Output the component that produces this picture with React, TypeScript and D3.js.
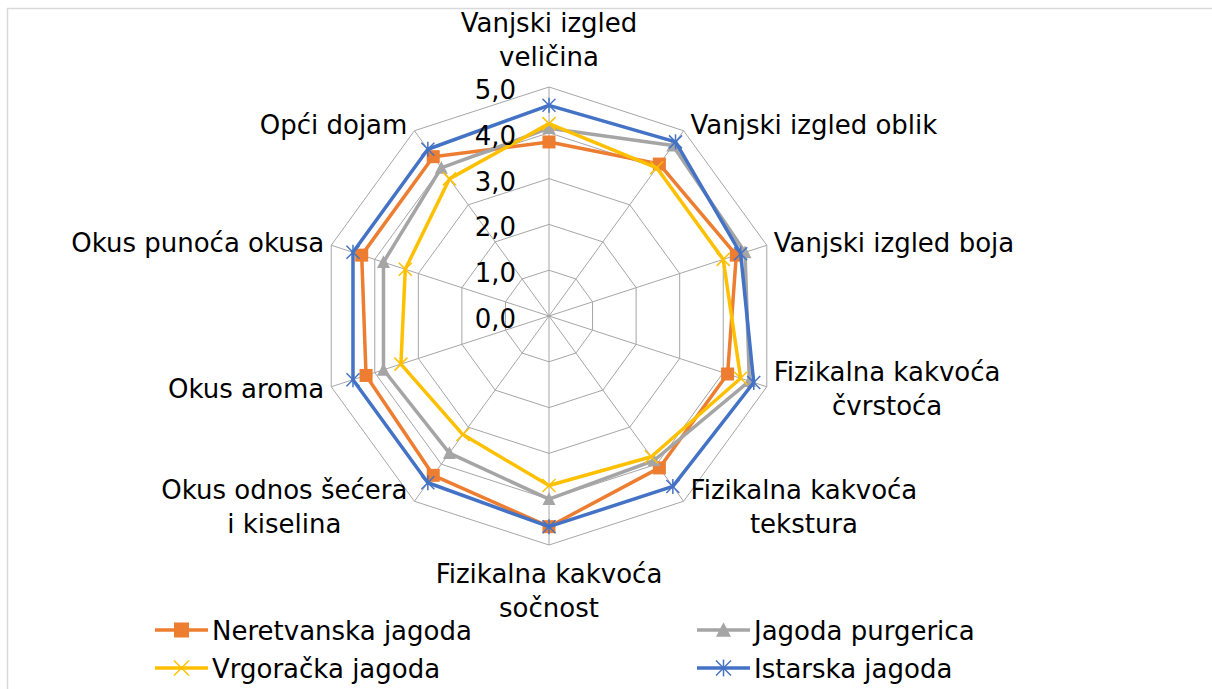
import * as d3 from "d3";

const axes = [
  ["Vanjski izgled", "veličina"],
  ["Vanjski izgled oblik"],
  ["Vanjski izgled boja"],
  ["Fizikalna kakvoća", "čvrstoća"],
  ["Fizikalna kakvoća", "tekstura"],
  ["Fizikalna kakvoća", "sočnost"],
  ["Okus odnos šećera", "i kiselina"],
  ["Okus aroma"],
  ["Okus punoća okusa"],
  ["Opći dojam"],
];

const seriesNames = [
  "Neretvanska jagoda",
  "Jagoda purgerica",
  "Vrgoračka jagoda",
  "Istarska jagoda",
];
const seriesColors = ["#ED7D31", "#A5A5A5", "#FFC000", "#4472C4"];
const seriesMarkers = ["square", "triangle", "x", "star"];

const neretvanska = [3.8, 4.1, 4.3, 4.1, 4.1, 4.6, 4.3, 4.2, 4.3, 4.3];
const purgerica = [4.1, 4.6, 4.5, 4.6, 3.9, 4.0, 3.7, 3.8, 3.8, 4.0];
const vrgoracka = [4.2, 4.0, 4.0, 4.4, 3.8, 3.7, 3.2, 3.4, 3.3, 3.7];
const istarska = [4.6, 4.7, 4.4, 4.7, 4.6, 4.6, 4.5, 4.5, 4.5, 4.5];
const seriesValues = [neretvanska, purgerica, vrgoracka, istarska];

const ticks = [0, 1, 2, 3, 4, 5];

const FONT = "DejaVu Sans, Verdana, sans-serif";
const FS = 26;
const LH = 34;

let ctx: CanvasRenderingContext2D | null = null;
const textWidth = (s: string) => {
  if (!ctx) ctx = document.createElement("canvas").getContext("2d");
  ctx!.font = `${FS}px ${FONT}`;
  return ctx!.measureText(s).width;
};

const Marker = ({ type, color, x, y, s }) => {
  if (type === "square")
    return <rect x={x - s / 2} y={y - s / 2} width={s} height={s} fill={color} />;
  if (type === "triangle") {
    const h = s * 0.9;
    return (
      <path
        d={`M${x},${y - h / 2 - 1} L${x + s / 2},${y + h / 2} L${x - s / 2},${y + h / 2} Z`}
        fill={color}
      />
    );
  }
  const r = s / 2;
  return (
    <g stroke={color} strokeWidth={1.5}>
      <line x1={x - r} y1={y - r} x2={x + r} y2={y + r} />
      <line x1={x - r} y1={y + r} x2={x + r} y2={y - r} />
      {type === "star" && <line x1={x} y1={y - r - 1} x2={x} y2={y + r + 1} />}
    </g>
  );
};

const App = () => {
  const width = 1212;
  const height = 689;
  const cx = 549;
  const cy = 316;
  const R = 229;
  const n = axes.length;

  const r = d3.scaleLinear().domain([0, 5]).range([0, R]);
  const angle = (i: number) => (i * 2 * Math.PI) / n;
  const pt = (i: number, v: number) => [
    cx + r(v) * Math.sin(angle(i)),
    cy - r(v) * Math.cos(angle(i)),
  ];

  const radial = d3
    .lineRadial<number>()
    .angle((_, i) => angle(i))
    .radius((d) => r(d))
    .curve(d3.curveLinearClosed);

  const legendX = [155, 697];
  const legendY = [630, 668];

  return (
    <svg
      width={width}
      height={height}
      style={{ position: "absolute", left: 0, top: 0 }}
      fontFamily={FONT}
      fontSize={FS}
    >
      <rect x={0} y={0} width={width} height={height} fill="#fff" />
      <rect x={7.5} y={8.5} width={width + 20} height={height + 20} fill="none" stroke="#d9d9d9" strokeWidth={1.5} />

      <g>
        {ticks.slice(1).map((t) => (
          <path
            key={t}
            d={radial(axes.map(() => t))}
            transform={`translate(${cx},${cy})`}
            fill="none"
            stroke="#a6a6a6"
            strokeWidth={1}
          />
        ))}
        {axes.map((_, i) => {
          const [x, y] = pt(i, 5);
          return <line key={i} x1={cx} y1={cy} x2={x} y2={y} stroke="#a6a6a6" strokeWidth={1} />;
        })}
      </g>

      {seriesValues.map((vals, si) => (
        <g key={si}>
          <path
            d={radial(vals)}
            transform={`translate(${cx},${cy})`}
            fill="none"
            stroke={seriesColors[si]}
            strokeWidth={3.5}
            strokeLinejoin="round"
          />
          {vals.map((v, i) => {
            const [x, y] = pt(i, v);
            return <Marker key={i} type={seriesMarkers[si]} color={seriesColors[si]} x={x} y={y} s={13} />;
          })}
        </g>
      ))}

      {ticks.map((t) => (
        <text key={t} x={cx - 33} y={cy - r(t) + 12} textAnchor="end" fill="#000">
          {d3.format(".1f")(t).replace(".", ",")}
        </text>
      ))}

      {axes.map((lines, i) => {
        const [vx, vy] = pt(i, 5);
        const s = Math.sin(angle(i));
        const c = Math.cos(angle(i));
        if (Math.abs(s) < 0.01) {
          const y0 = c > 0 ? vy - 21 - (lines.length - 1) * LH : vy + 38;
          return (
            <text key={i} textAnchor="middle" fill="#000">
              {lines.map((l, k) => (
                <tspan key={k} x={vx} y={y0 + k * LH}>
                  {l}
                </tspan>
              ))}
            </text>
          );
        }
        const w = Math.max(...lines.map(textWidth));
        const left = s > 0 ? vx + 7 : vx - 7 - w;
        const y0 = vy + 9 - 7 * c - ((lines.length - 1) * LH) / 2;
        return (
          <text key={i} textAnchor="middle" fill="#000">
            {lines.map((l, k) => (
              <tspan key={k} x={left + w / 2} y={y0 + k * LH}>
                {l}
              </tspan>
            ))}
          </text>
        );
      })}

      {seriesNames.map((name, si) => {
        const x = legendX[si % 2];
        const y = legendY[Math.floor(si / 2)];
        return (
          <g key={name}>
            <line x1={x} y1={y} x2={x + 53} y2={y} stroke={seriesColors[si]} strokeWidth={3.5} />
            <Marker type={seriesMarkers[si]} color={seriesColors[si]} x={x + 26.5} y={y} s={15} />
            <text x={x + 57} y={y + 10} fill="#000">
              {name}
            </text>
          </g>
        );
      })}
    </svg>
  );
};

export default App;
